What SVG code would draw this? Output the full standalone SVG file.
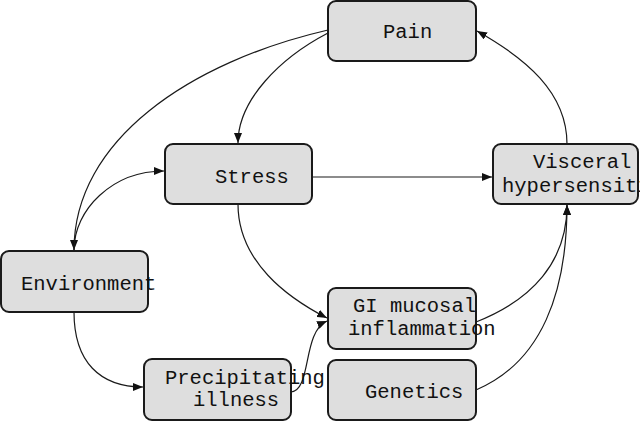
<svg xmlns="http://www.w3.org/2000/svg" width="640" height="421" viewBox="0 0 640 421">
<style>
.box{fill:#dedede;stroke:#1a1a1a;stroke-width:2}
.t{font-family:"Liberation Mono","DejaVu Sans Mono",monospace;font-size:20.5px;fill:#111}
.c{fill:none;stroke:#1a1a1a;stroke-width:1.2}
</style>
<defs>
<marker id="ah" viewBox="0 0 10 8" refX="10" refY="4" markerWidth="10" markerHeight="8" markerUnits="userSpaceOnUse" orient="auto">
<path d="M0,0 L10,4 L0,8 Z" fill="#111"/>
</marker>
</defs>
<g id="connectors">
<path class="c" d="M328,30 C190,62 74,140 74,250" marker-end="url(#ah)"/>
<path class="c" d="M328,33 C280,58 238,100 238,143" marker-end="url(#ah)"/>
<path class="c" d="M74,250 C74,210 112,171 164,171" marker-end="url(#ah)"/>
<path class="c" d="M312,177 L492,177" marker-end="url(#ah)"/>
<path class="c" d="M238,204 C238,262 288,298 327,318" marker-end="url(#ah)"/>
<path class="c" d="M291,392 C312,390 302,332 327,321" marker-end="url(#ah)"/>
<path class="c" d="M74,312 C74,362 100,387 143,387" marker-end="url(#ah)"/>
<path class="c" d="M567,144 C567,92 525,58 477,31" marker-end="url(#ah)"/>
<path class="c" d="M476,322 C532,300 567,262 567,205" marker-end="url(#ah)"/>
<path class="c" d="M476,390 C542,362 567,292 567,205" marker-end="url(#ah)"/>
</g>
<g id="pain"><rect class="box" x="328" y="1" width="148" height="60" rx="8"/><text class="t" x="383" y="38">Pain</text></g>
<g id="stress"><rect class="box" x="165" y="144" width="147" height="60" rx="8"/><text class="t" x="215" y="183">Stress</text></g>
<g id="visceral"><rect class="box" x="493" y="144" width="145" height="60" rx="8"/><text class="t" x="533" y="168">Visceral</text><text class="t" x="502" y="192">hypersensitivity</text></g>
<g id="environment"><rect class="box" x="1" y="251" width="147" height="61" rx="8"/><text class="t" x="21" y="290">Environment</text></g>
<g id="precipitating"><rect class="box" x="144" y="359" width="147" height="61" rx="8"/><text class="t" x="165" y="384">Precipitating</text><text class="t" x="193" y="406">illness</text></g>
<g id="gi"><rect class="box" x="328" y="288" width="148" height="61" rx="8"/><text class="t" x="353" y="312">GI mucosal</text><text class="t" x="348" y="335">inflammation</text></g>
<g id="genetics"><rect class="box" x="328" y="360" width="148" height="60" rx="8"/><text class="t" x="365" y="398">Genetics</text></g>
</svg>
